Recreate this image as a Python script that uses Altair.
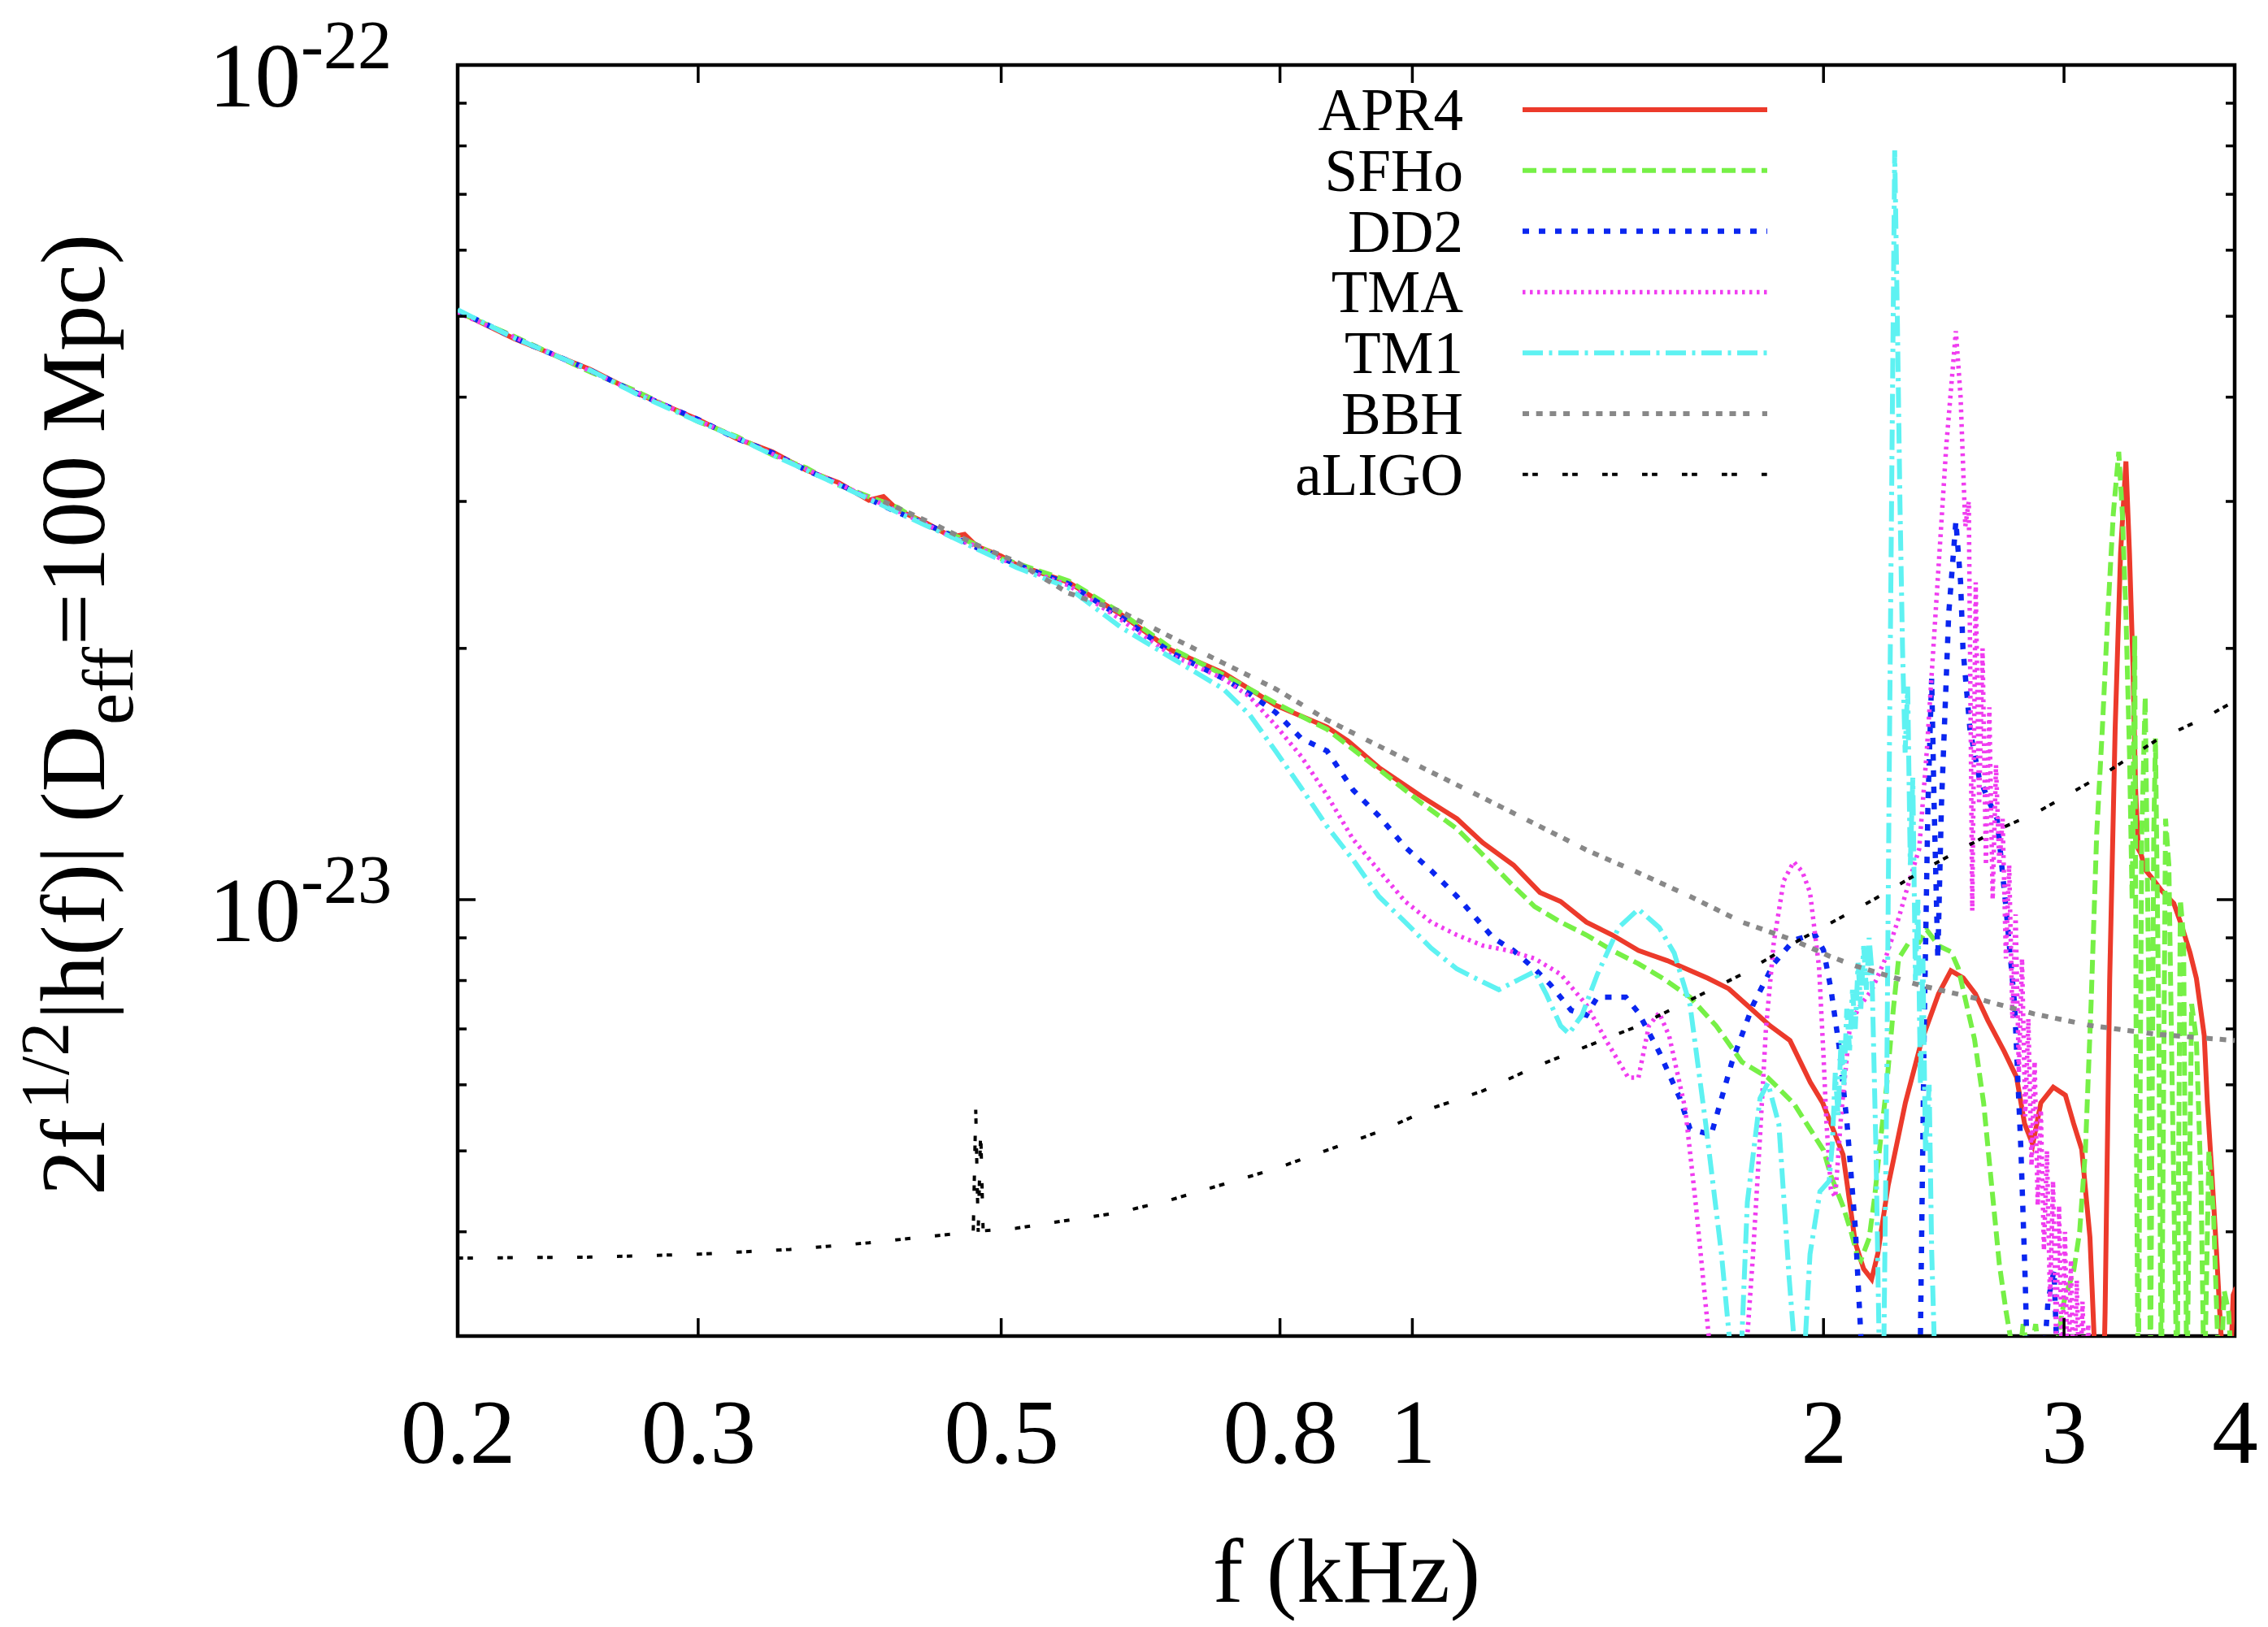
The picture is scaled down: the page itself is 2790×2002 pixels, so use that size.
import altair as alt
import pandas as pd

# ---------------- data: f in kHz, h = 2 f^1/2 |h(f)| in units of 1e-23 ----------------
APR4 = [(0.2, 5.07), (0.22, 4.70), (0.25, 4.32), (0.27, 4.05), (0.3, 3.76), (0.32, 3.57),
        (0.34, 3.44), (0.36, 3.27), (0.38, 3.16), (0.40, 3.01), (0.41, 3.04), (0.42, 2.93),
        (0.44, 2.83), (0.46, 2.72), (0.47, 2.74), (0.48, 2.65), (0.50, 2.58), (0.513, 2.52),
        (0.56, 2.40), (0.611, 2.20), (0.666, 1.99), (0.727, 1.87), (0.794, 1.71), (0.866, 1.61),
        (0.897, 1.55), (0.945, 1.44), (1.015, 1.33), (1.078, 1.25), (1.126, 1.17), (1.186, 1.10),
        (1.240, 1.02), (1.284, 0.995), (1.341, 0.94), (1.401, 0.907), (1.464, 0.869), (1.537, 0.845),
        (1.646, 0.805), (1.705, 0.782), (1.764, 0.744), (1.826, 0.707), (1.890, 0.678), (1.956, 0.604),
        (1.997, 0.571), (2.025, 0.539), (2.067, 0.495), (2.110, 0.388), (2.140, 0.361), (2.169, 0.351),
        (2.192, 0.377), (2.230, 0.454), (2.296, 0.571), (2.360, 0.678), (2.428, 0.771), (2.479, 0.822),
        (2.531, 0.806), (2.584, 0.771), (2.638, 0.717), (2.712, 0.658), (2.769, 0.613), (2.807, 0.539),
        (2.846, 0.509), (2.885, 0.571), (2.946, 0.596), (3.007, 0.583), (3.049, 0.539), (3.091, 0.502),
        (3.134, 0.394), (3.156, 0.300), (3.17, 0.22), (3.20, 0.22), (3.215, 0.32), (3.24, 0.8),
        (3.27, 1.6), (3.30, 2.6), (3.33, 3.35), (3.35, 2.6), (3.37, 1.9), (3.385, 1.35), (3.40, 1.15),
        (3.416, 1.134), (3.44, 1.086), (3.49, 1.055), (3.535, 1.026), (3.61, 0.990), (3.66, 0.928),
        (3.71, 0.864), (3.75, 0.805), (3.80, 0.687), (3.82, 0.571), (3.85, 0.467), (3.88, 0.377),
        (3.90, 0.322), (3.93, 0.26), (3.96, 0.24), (3.99, 0.336), (4.01, 0.343)]

SFHo = [(0.2, 5.06), (0.22, 4.73), (0.25, 4.29), (0.27, 4.07), (0.3, 3.74), (0.32, 3.59),
        (0.34, 3.41), (0.36, 3.29), (0.38, 3.14), (0.40, 3.04), (0.42, 2.95), (0.44, 2.81),
        (0.46, 2.74), (0.48, 2.66), (0.50, 2.56), (0.513, 2.53), (0.56, 2.41), (0.611, 2.21),
        (0.666, 2.00), (0.727, 1.86), (0.794, 1.72), (0.866, 1.60), (0.945, 1.433), (1.015, 1.306),
        (1.078, 1.216), (1.126, 1.132), (1.186, 1.038), (1.229, 0.981), (1.284, 0.940), (1.341, 0.907),
        (1.401, 0.869), (1.464, 0.838), (1.529, 0.803), (1.597, 0.764), (1.669, 0.706), (1.743, 0.639),
        (1.821, 0.612), (1.902, 0.570), (2.0, 0.501), (2.025, 0.467), (2.067, 0.429), (2.096, 0.399),
        (2.117, 0.375), (2.13, 0.37), (2.16, 0.393), (2.18, 0.44), (2.20, 0.509), (2.225, 0.60),
        (2.25, 0.74), (2.27, 0.85), (2.31, 0.889), (2.35, 0.889), (2.38, 0.92), (2.43, 0.88),
        (2.48, 0.866), (2.51, 0.828), (2.54, 0.76), (2.58, 0.68), (2.62, 0.57), (2.65, 0.47),
        (2.69, 0.366), (2.72, 0.322), (2.74, 0.30), (2.76, 0.25), (2.80, 0.31), (2.83, 0.28),
        (2.86, 0.31), (2.90, 0.25), (2.95, 0.28), (3.0, 0.33), (3.05, 0.36), (3.08, 0.40),
        (3.11, 0.50), (3.14, 0.75), (3.17, 1.2), (3.20, 1.6), (3.23, 2.2), (3.26, 2.9), (3.29, 3.44),
        (3.31, 2.9), (3.33, 2.2), (3.35, 1.5), (3.365, 1.0), (3.38, 2.07), (3.39, 0.5), (3.40, 0.25),
        (3.42, 1.2), (3.44, 1.75), (3.46, 0.8), (3.47, 0.25), (3.49, 1.2), (3.50, 1.56), (3.52, 0.7),
        (3.535, 0.25), (3.56, 1.25), (3.58, 1.1), (3.60, 0.6), (3.63, 0.25), (3.65, 1.0), (3.67, 0.9),
        (3.69, 0.25), (3.72, 0.75), (3.75, 0.68), (3.78, 0.45), (3.80, 0.25), (3.83, 0.5), (3.86, 0.42),
        (3.90, 0.25), (3.93, 0.34), (3.96, 0.32), (3.99, 0.25)]

DD2 = [(0.2, 5.08), (0.22, 4.71), (0.25, 4.31), (0.27, 4.05), (0.3, 3.76), (0.32, 3.57),
       (0.34, 3.43), (0.36, 3.27), (0.38, 3.15), (0.40, 3.02), (0.42, 2.91), (0.44, 2.82),
       (0.46, 2.73), (0.48, 2.64), (0.50, 2.57), (0.513, 2.52), (0.56, 2.39), (0.611, 2.185),
       (0.666, 1.977), (0.727, 1.841), (0.760, 1.764), (0.794, 1.677), (0.829, 1.561), (0.866, 1.507),
       (0.905, 1.353), (0.945, 1.260), (0.988, 1.156), (1.032, 1.084), (1.078, 1.009), (1.107, 0.960),
       (1.146, 0.900), (1.186, 0.869), (1.229, 0.826), (1.262, 0.791), (1.307, 0.737), (1.341, 0.727),
       (1.366, 0.764), (1.401, 0.764), (1.433, 0.764), (1.464, 0.732), (1.516, 0.657), (1.570, 0.578),
       (1.597, 0.531), (1.655, 0.523), (1.714, 0.639), (1.776, 0.748), (1.839, 0.838), (1.902, 0.894),
       (1.937, 0.902), (1.972, 0.907), (2.0, 0.87), (2.025, 0.782), (2.053, 0.668), (2.081, 0.539),
       (2.110, 0.405), (2.13, 0.300), (2.15, 0.22), (2.33, 0.22), (2.355, 0.30), (2.37, 0.7),
       (2.385, 1.3), (2.40, 1.84), (2.41, 1.3), (2.425, 0.85), (2.44, 1.3), (2.47, 2.2), (2.50, 2.84),
       (2.52, 2.4), (2.53, 2.0), (2.56, 1.6), (2.60, 1.4), (2.65, 1.3), (2.68, 1.25), (2.72, 0.98),
       (2.76, 0.75), (2.79, 0.5), (2.81, 0.35), (2.83, 0.22), (2.87, 0.22), (2.92, 0.33), (2.95, 0.36),
       (2.98, 0.22)]

TMA = [(0.2, 5.05), (0.22, 4.72), (0.25, 4.30), (0.27, 4.06), (0.3, 3.75), (0.32, 3.58),
       (0.34, 3.42), (0.36, 3.28), (0.38, 3.15), (0.40, 3.03), (0.42, 2.92), (0.44, 2.82),
       (0.46, 2.72), (0.48, 2.65), (0.50, 2.56), (0.513, 2.51), (0.56, 2.38), (0.611, 2.169),
       (0.666, 1.963), (0.727, 1.841), (0.760, 1.751), (0.794, 1.618), (0.829, 1.485), (0.866, 1.334),
       (0.905, 1.181), (0.945, 1.084), (0.988, 0.995), (1.032, 0.940), (1.078, 0.907), (1.126, 0.881),
       (1.176, 0.869), (1.229, 0.850), (1.284, 0.814), (1.341, 0.748), (1.388, 0.676), (1.439, 0.612),
       (1.464, 0.612), (1.490, 0.706), (1.516, 0.732), (1.542, 0.686), (1.584, 0.562), (1.612, 0.434),
       (1.640, 0.326), (1.655, 0.28), (1.70, 0.22), (1.745, 0.22), (1.759, 0.30), (1.776, 0.376),
       (1.797, 0.52), (1.815, 0.70), (1.839, 0.887), (1.870, 1.053), (1.902, 1.11), (1.93, 1.08),
       (1.955, 1.02), (1.985, 0.83), (2.0, 0.65), (2.01, 0.54), (2.025, 0.45), (2.04, 0.44),
       (2.06, 0.55), (2.09, 0.70), (2.12, 0.74), (2.17, 0.78), (2.22, 0.85), (2.27, 0.95),
       (2.31, 1.05), (2.35, 1.15), (2.38, 1.5), (2.42, 2.3), (2.46, 3.5), (2.50, 4.8), (2.52, 4.0),
       (2.54, 2.8), (2.555, 3.0), (2.57, 0.97), (2.585, 2.4), (2.60, 1.3), (2.615, 2.0), (2.63, 1.1),
       (2.645, 1.7), (2.66, 1.0), (2.675, 1.45), (2.69, 1.1), (2.705, 1.25), (2.72, 0.85), (2.735, 1.1),
       (2.75, 0.72), (2.765, 0.96), (2.78, 0.62), (2.795, 0.85), (2.81, 0.55), (2.825, 0.72),
       (2.84, 0.48), (2.855, 0.64), (2.87, 0.43), (2.885, 0.56), (2.90, 0.38), (2.915, 0.50),
       (2.93, 0.33), (2.945, 0.46), (2.96, 0.30), (2.975, 0.43), (2.99, 0.27), (3.005, 0.40),
       (3.02, 0.25), (3.035, 0.37), (3.05, 0.25), (3.065, 0.35), (3.08, 0.25), (3.095, 0.33),
       (3.11, 0.25), (3.125, 0.31), (3.14, 0.22), (3.16, 0.28), (3.18, 0.22)]

TM1 = [(0.2, 5.09), (0.22, 4.71), (0.25, 4.31), (0.27, 4.04), (0.3, 3.74), (0.32, 3.58),
       (0.34, 3.41), (0.36, 3.27), (0.38, 3.14), (0.40, 3.02), (0.42, 2.91), (0.44, 2.81),
       (0.46, 2.72), (0.48, 2.63), (0.50, 2.55), (0.513, 2.50), (0.56, 2.364), (0.611, 2.123),
       (0.666, 1.949), (0.727, 1.789), (0.760, 1.666), (0.794, 1.507), (0.829, 1.362), (0.866, 1.224),
       (0.905, 1.116), (0.945, 1.009), (0.988, 0.940), (1.032, 0.875), (1.078, 0.826), (1.126, 0.797),
       (1.157, 0.780), (1.198, 0.803), (1.229, 0.820), (1.254, 0.769), (1.284, 0.706), (1.302, 0.691),
       (1.331, 0.727), (1.366, 0.814), (1.416, 0.926), (1.464, 0.974), (1.516, 0.926), (1.555, 0.863),
       (1.597, 0.748), (1.640, 0.538), (1.684, 0.376), (1.706, 0.30), (1.72, 0.22), (1.743, 0.30),
       (1.759, 0.434), (1.797, 0.578), (1.821, 0.603), (1.855, 0.538), (1.888, 0.350), (1.902, 0.30),
       (1.92, 0.22), (1.955, 0.376), (1.988, 0.447), (2.019, 0.460), (2.03, 0.51), (2.04, 0.62),
       (2.05, 0.55), (2.06, 0.68), (2.07, 0.60), (2.08, 0.74), (2.09, 0.66), (2.10, 0.78), (2.11, 0.70),
       (2.12, 0.84), (2.13, 0.74), (2.14, 0.88), (2.15, 0.78), (2.16, 0.90), (2.17, 0.82), (2.185, 0.5),
       (2.20, 0.25), (2.21, 0.22), (2.225, 0.6), (2.235, 1.5), (2.245, 3.5), (2.255, 7.9), (2.265, 5.0),
       (2.275, 3.0), (2.285, 2.0), (2.295, 1.5), (2.305, 1.8), (2.315, 1.1), (2.325, 1.4), (2.335, 0.8),
       (2.345, 1.0), (2.355, 0.6), (2.365, 0.85), (2.375, 0.5), (2.39, 0.6), (2.40, 0.38), (2.41, 0.3),
       (2.42, 0.22), (2.45, 0.22)]

BBH = [(0.41, 3.0), (0.45, 2.80), (0.48, 2.66), (0.513, 2.54), (0.560, 2.33), (0.611, 2.216),
       (0.666, 2.063), (0.727, 1.921), (0.794, 1.789), (0.866, 1.642), (0.945, 1.528), (1.032, 1.422),
       (1.126, 1.325), (1.229, 1.233), (1.341, 1.147), (1.464, 1.077), (1.597, 1.009), (1.743, 0.940),
       (1.902, 0.894), (2.019, 0.856), (2.11, 0.833), (2.35, 0.79), (2.60, 0.760), (2.85, 0.73),
       (3.13, 0.707), (3.5, 0.69), (4.0, 0.678)]

aLIGO = [(0.2, 0.372), (0.25, 0.373), (0.3, 0.376), (0.35, 0.381), (0.4, 0.388), (0.45, 0.396),
         (0.477, 0.40), (0.479, 0.56), (0.481, 0.40), (0.483, 0.53), (0.485, 0.401), (0.513, 0.404),
         (0.560, 0.413), (0.611, 0.422), (0.666, 0.437), (0.727, 0.456), (0.794, 0.476), (0.866, 0.501),
         (0.945, 0.527), (1.032, 0.562), (1.126, 0.590), (1.229, 0.630), (1.341, 0.667), (1.464, 0.706),
         (1.597, 0.758), (1.743, 0.814), (1.902, 0.887), (2.169, 0.997), (2.407, 1.102), (2.672, 1.209),
         (2.863, 1.271), (3.2, 1.41), (3.5, 1.55), (3.8, 1.65), (4.0, 1.73)]

SERIES = ["APR4", "SFHo", "DD2", "TMA", "TM1", "BBH", "aLIGO"]
DATA = {"APR4": APR4, "SFHo": SFHo, "DD2": DD2, "TMA": TMA, "TM1": TM1, "BBH": BBH, "aLIGO": aLIGO}

X_LABELS = [0.2, 0.3, 0.5, 0.8, 1, 2, 3, 4]
X_TICKS = [0.3, 0.5, 0.8, 1, 2, 3]
Y_MAJOR = [1, 10]
Y_EXP = ["-23", "-22"]
Y_MINOR = [0.4, 0.5, 0.6, 0.7, 0.8, 0.9, 2, 3, 4, 5, 6, 7, 8, 9]

# ---------------- styles ----------------
FONT = "Liberation Serif"
W, H = 2186, 1564
STYLE = {
    "APR4": dict(color="#ec3a2b", strokeWidth=6),
    "SFHo": dict(color="#76f046", strokeWidth=6, strokeDash=[17, 7.5]),
    "DD2": dict(color="#0a26f0", strokeWidth=6.5, strokeDash=[8, 12]),
    "TMA": dict(color="#f03cf0", strokeWidth=5.5, strokeDash=[3.5, 5.5]),
    "TM1": dict(color="#5ef2f2", strokeWidth=6, strokeDash=[25, 7.5, 4, 7.5]),
    "BBH": dict(color="#888888", strokeWidth=6, strokeDash=[8, 8.7, 8, 8.7, 8, 8.7, 8, 15.6]),
    "aLIGO": dict(color="#000000", strokeWidth=4, strokeDash=[6.7, 5.4, 6.7, 30.2]),
}

xscale = alt.Scale(type="log", domain=[0.2, 4], nice=False)
yscale = alt.Scale(type="log", domain=[0.3, 10], nice=False)
xaxis = alt.Axis(values=X_LABELS, format="~g", labelFont=FONT, labelFontSize=113,
                 labelColor="black", labelPadding=155, labelBaseline="alphabetic",
                 labelOverlap=False, labelFlush=False, ticks=False, tickSize=0,
                 domain=False, grid=False, title="f (kHz)", titleFont=FONT,
                 titleFontSize=113, titleFontWeight="normal", titleColor="black",
                 titleY=326, titleBaseline="alphabetic")


def X(field):
    return alt.X(f"{field}:Q", scale=xscale, axis=xaxis)


def Y(field):
    return alt.Y(f"{field}:Q", scale=yscale, axis=None)


one = pd.DataFrame({"k": [0]})
layers = []

# curves
for name in SERIES:
    df = pd.DataFrame(DATA[name], columns=["f", "h"])
    layers.append(alt.Chart(df).mark_line(clip=True, **STYLE[name]).encode(x=X("f"), y=Y("h")))

# legend
for i, name in enumerate(SERIES):
    ry = 55 + 74.8 * i
    layers.append(alt.Chart(one).mark_rule(**STYLE[name]).encode(
        x=alt.value(1310), x2=alt.value(1611), y=alt.value(ry)))
    layers.append(alt.Chart(pd.DataFrame({"name": [name]})).mark_text(
        font=FONT, fontSize=73, align="right", baseline="alphabetic", dy=25, color="black"
    ).encode(x=alt.value(1237), y=alt.value(ry), text="name:N"))

# inward ticks
xt = pd.DataFrame({"v": X_TICKS})
ymaj = pd.DataFrame({"v": Y_MAJOR})
ymin = pd.DataFrame({"v": Y_MINOR})
tick = dict(color="black", strokeWidth=3.5)
layers += [
    alt.Chart(xt).mark_rule(**tick).encode(x=X("v"), y=alt.value(H), y2=alt.value(H - 22)),
    alt.Chart(xt).mark_rule(**tick).encode(x=X("v"), y=alt.value(0), y2=alt.value(22)),
    alt.Chart(ymaj).mark_rule(**tick).encode(y=Y("v"), x=alt.value(0), x2=alt.value(22)),
    alt.Chart(ymaj).mark_rule(**tick).encode(y=Y("v"), x=alt.value(W), x2=alt.value(W - 22)),
    alt.Chart(ymin).mark_rule(**tick).encode(y=Y("v"), x=alt.value(0), x2=alt.value(11)),
    alt.Chart(ymin).mark_rule(**tick).encode(y=Y("v"), x=alt.value(W), x2=alt.value(W - 11)),
]

# y tick labels 10^-22, 10^-23
ylab = pd.DataFrame({"v": Y_MAJOR, "exp": Y_EXP})
layers += [
    alt.Chart(ylab).mark_text(font=FONT, fontSize=113, align="right", baseline="alphabetic",
                              dy=51, color="black").encode(y=Y("v"), x=alt.value(-193), text=alt.value("10")),
    alt.Chart(ylab).mark_text(font=FONT, fontSize=84, align="left", baseline="alphabetic",
                              dy=4, color="black").encode(y=Y("v"), x=alt.value(-193), text="exp:N"),
]

# y title: 2f^{1/2}|h(f)| (D_eff=100 Mpc)
TITLE_PARTS = [("2f", 113, -435, 1391), ("1/2", 84, -479, 1285), ("|h(f)| (D", 113, -435, 1175),
               ("eff", 88, -400, 812), ("=100 Mpc)", 113, -435, 714)]
for txt, fs, tx, ty in TITLE_PARTS:
    layers.append(alt.Chart(one).mark_text(font=FONT, fontSize=fs, angle=270, align="left",
                                           baseline="alphabetic", color="black").encode(
        x=alt.value(tx), y=alt.value(ty), text=alt.value(txt)))

chart = alt.layer(*layers).properties(
    width=W, height=H, background="white",
    padding={"left": 555, "top": 72, "right": 30, "bottom": 350},
    autosize=alt.AutoSizeParams(type="none"),
).configure_view(stroke="black", strokeWidth=4.5)

chart.save("out.html", embed_options={"renderer": "svg", "actions": False})
